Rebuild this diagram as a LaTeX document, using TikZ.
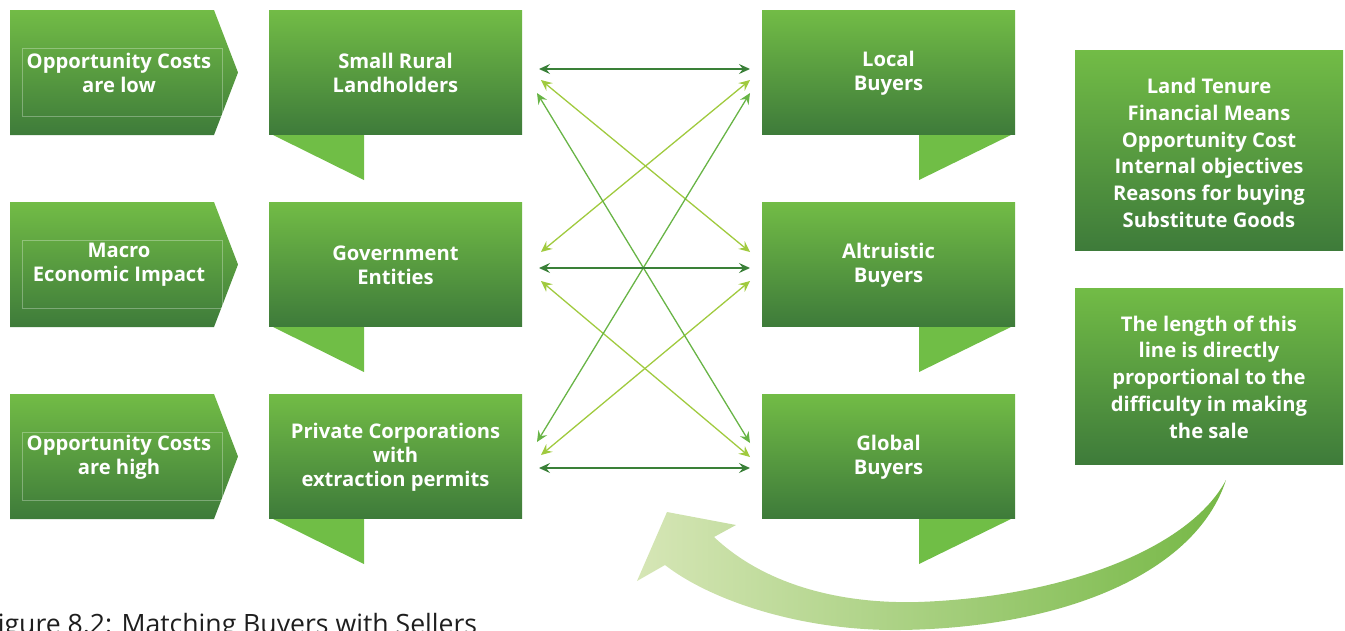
\documentclass[tikz,border=0pt]{standalone}
\usepackage{fontspec}
\setmainfont{Open Sans}
\usetikzlibrary{arrows.meta}
\definecolor{gtop}{RGB}{114,188,70}
\definecolor{gbot}{RGB}{62,123,58}
\definecolor{tabg}{RGB}{112,190,70}
\definecolor{hdark}{RGB}{58,128,56}
\definecolor{dlight}{RGB}{160,202,62}
\definecolor{dmid}{RGB}{104,180,70}
\definecolor{alight}{RGB}{214,230,182}
\definecolor{adark}{RGB}{118,184,70}
\definecolor{capg}{RGB}{30,30,30}
\tikzset{mytip/.tip={Stealth[length=11pt,width=10pt,inset=4pt]}}
\begin{document}
\begin{tikzpicture}[x=1pt,y=-1pt,
  lbl/.style={text=white,font=\fontsize{20.2}{24}\selectfont\bfseries,align=center,inner sep=0pt},
  infolbl/.style={text=white,font=\fontsize{20.2}{26.8}\selectfont\bfseries,align=center,inner sep=0pt},
  boxfill/.style={top color=gtop,bottom color=gbot,draw=none},
  gbox/.style={boxfill,minimum width=253pt,minimum height=124pt,inner sep=0pt,outer sep=0pt},
  tabfill/.style={fill=tabg,draw=none},
  innerline/.style={draw=white,opacity=0.3,line width=0.6pt},
  link/.style={line width=1.3pt,{mytip}-{mytip}},
  hlink/.style={link,draw=hdark,color=hdark},
  llink/.style={link,draw=dlight,color=dlight},
  mlink/.style={link,draw=dmid,color=dmid},
]
\useasboundingbox (0,0) rectangle (1345,630);
\clip (0,0) rectangle (1345,630);

% ---------- left arrows ----------
\foreach \r in {0,1,2}{
  \pgfmathsetmacro{\yo}{10+192*\r}
  \shade[boxfill] (10,\yo) -- (214,\yo) -- (238,\yo+62.5) -- (214,\yo+125) -- (10,\yo+125) -- cycle;
  \draw[innerline] (22,\yo+38) rectangle (222,\yo+106);
}
\node[lbl] (oclow) at (119,73) {Opportunity Costs\\are low};
\node[lbl] (macro) at (119,265) {Macro\\Economic Impact};
\node[lbl] (ochigh) at (119,457) {Opportunity Costs\\are high};

% ---------- tabs ----------
\foreach \r in {0,1,2}{
  \pgfmathsetmacro{\yo}{10+192*\r}
  \fill[tabfill] (269,\yo+123) -- (364,\yo+123) -- (364,\yo+170) -- cycle;
  \fill[tabfill] (919,\yo+123) -- (1015,\yo+123) -- (919,\yo+170) -- cycle;
}
% ---------- middle (seller) boxes ----------
\node[gbox] (srl) at (395.5,72) {};
\node[lbl] (srlt) at (395.5,73) {Small Rural\\Landholders};
\node[gbox] (gov) at (395.5,264) {};
\node[lbl] (govt) at (395.5,265) {Government\\Entities};
\node[gbox] (pc) at (395.5,456) {};
\node[lbl] (pct) at (395.5,457) {Private Corporations\\with\\extraction permits};

% ---------- right (buyer) boxes ----------
\node[gbox] (lb) at (888.5,72) {};
\node[lbl] (lbt) at (888.5,73) {Local\\Buyers};
\node[gbox] (ab) at (888.5,264) {};
\node[lbl] (abt) at (888.5,265) {Altruistic\\Buyers};
\node[gbox] (gb) at (888.5,456) {};
\node[lbl] (gbt) at (888.5,457) {Global\\Buyers};

% ---------- info boxes ----------
\node[boxfill,minimum width=268pt,minimum height=200pt,inner sep=0pt] (info) at (1209,150) {};
\node[infolbl] (infot) at (1209,153) {Land Tenure\\Financial Means\\Opportunity Cost\\Internal objectives\\Reasons for buying\\Substitute Goods};
\node[boxfill,minimum width=268pt,minimum height=176pt,inner sep=0pt] (note) at (1209,376) {};
\node[infolbl] (notet) at (1209,377) {The length of this\\line is directly\\proportional to the\\difficulty in making\\the sale};

% ---------- connector end points ----------
\coordinate (L1h) at (539,69);  \coordinate (R1h) at (750,69);
\coordinate (L1l) at (541,80);  \coordinate (R1l) at (750,80);
\coordinate (L1m) at (537,93);  \coordinate (R1m) at (750,93);
\coordinate (L2u) at (541,252); \coordinate (R2u) at (750,252);
\coordinate (L2h) at (539,268); \coordinate (R2h) at (750,268);
\coordinate (L2d) at (541,281); \coordinate (R2d) at (750,281);
\coordinate (L3m) at (537,442); \coordinate (R3m) at (750,443);
\coordinate (L3l) at (541,455); \coordinate (R3l) at (750,457);
\coordinate (L3h) at (539,468); \coordinate (R3h) at (750,468);

\draw[llink] (L1l) -- (R2u);
\draw[llink] (R1l) -- (L2u);
\draw[llink] (L2d) -- (R3l);
\draw[llink] (R2d) -- (L3l);
\draw[mlink] (L1m) -- (R3m);
\draw[mlink] (R1m) -- (L3m);
\draw[hlink] (L1h) -- (R1h);
\draw[hlink] (L2h) -- (R2h);
\draw[hlink] (L3h) -- (R3h);

% ---------- big curved arrow ----------
\shade[left color=alight,right color=adark,draw=none]
  (1226,480) .. controls (1195,575) and (1060,628) .. (900,630)
  .. controls (800,631) and (710,600) .. (665,565)
  -- (637,581) -- (667,512) -- (736,525) -- (714,537)
  .. controls (765,585) and (840,604) .. (918,602)
  .. controls (1065,597) and (1190,548) .. (1226,480) -- cycle;

% ---------- caption ----------
\node[anchor=base west,inner sep=0pt,text=capg,font=\fontsize{26.6}{30}\selectfont] (cap) at (-16,633) {Figure 8.2: Matching Buyers with Sellers};
\end{tikzpicture}
\end{document}
